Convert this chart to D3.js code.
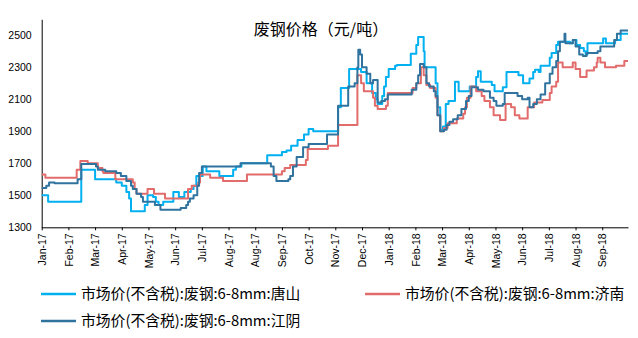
<!DOCTYPE html>
<html><head><meta charset="utf-8">
<script src="https://cdn.jsdelivr.net/npm/d3@7"></script>
<style>body{margin:0;background:#fff}svg{display:block;background:#fff}</style>
</head><body><svg id="c" width="638" height="338"></svg>
<script>
const chartTitle = "废钢价格（元/吨）";
const seriesNames = ["市场价(不含税):废钢:6-8mm:唐山", "市场价(不含税):废钢:6-8mm:济南", "市场价(不含税):废钢:6-8mm:江阴"];
const seriesColors = ["#00B0F0", "#E26B6B", "#31739F"];

const tangshanDates = ["2017-01-10","2017-01-17","2017-02-22","2017-03-09","2017-04-01","2017-04-07","2017-04-12","2017-04-15","2017-04-17","2017-05-02","2017-05-05","2017-05-11","2017-05-14","2017-05-17","2017-05-22","2017-06-02","2017-06-08","2017-06-14","2017-06-21","2017-06-24","2017-06-27","2017-07-04","2017-07-08","2017-07-22","2017-08-06","2017-08-09","2017-08-15","2017-09-12","2017-09-28","2017-10-03","2017-10-08","2017-10-15","2017-10-22","2017-10-27","2017-11-01","2017-11-28","2017-12-01","2017-12-10","2017-12-23","2017-12-29","2018-01-04","2018-01-08","2018-01-10","2018-01-15","2018-01-17","2018-01-19","2018-01-22","2018-01-29","2018-01-31","2018-02-15","2018-02-21","2018-02-23","2018-03-01","2018-03-02","2018-03-14","2018-03-16","2018-03-19","2018-03-22","2018-03-25","2018-03-28","2018-04-04","2018-04-08","2018-04-20","2018-04-27","2018-04-29","2018-05-02","2018-05-14","2018-05-17","2018-05-26","2018-05-30","2018-06-12","2018-06-17","2018-06-24","2018-06-28","2018-06-30","2018-07-04","2018-07-06","2018-07-16","2018-07-18","2018-07-23","2018-07-25","2018-08-07","2018-08-10","2018-08-14","2018-08-18","2018-08-22","2018-08-24","2018-08-26","2018-09-12","2018-09-15","2018-09-25","2018-10-01","2018-10-09"];
const tangshanValues = [1500,1460,1660,1600,1580,1560,1520,1480,1400,1440,1500,1490,1460,1440,1460,1520,1490,1520,1540,1560,1620,1680,1650,1620,1660,1680,1700,1750,1770,1780,1810,1845,1880,1915,1900,2050,2170,2290,2270,2200,2140,2100,2070,2120,2180,2240,2290,2310,2315,2385,2440,2490,2400,2300,2200,2050,1910,1930,2070,2090,2210,2150,2180,2240,2275,2210,2190,2150,2175,2270,2250,2200,2230,2270,2285,2270,2310,2360,2390,2440,2460,2450,2470,2440,2420,2400,2380,2450,2480,2450,2470,2510,2510];

const jinanDates = ["2017-01-10","2017-01-14","2017-02-17","2017-02-21","2017-03-01","2017-03-12","2017-03-17","2017-03-18","2017-03-31","2017-04-19","2017-04-21","2017-04-23","2017-05-05","2017-05-12","2017-05-24","2017-06-18","2017-06-22","2017-06-29","2017-07-01","2017-07-12","2017-07-26","2017-08-21","2017-09-28","2017-10-01","2017-10-07","2017-10-24","2017-10-26","2017-11-17","2017-11-28","2017-12-19","2017-12-23","2017-12-26","2018-01-05","2018-01-07","2018-01-10","2018-01-19","2018-01-21","2018-02-17","2018-02-21","2018-02-26","2018-03-01","2018-03-04","2018-03-08","2018-03-14","2018-03-16","2018-03-19","2018-03-23","2018-03-27","2018-04-06","2018-04-13","2018-04-15","2018-04-17","2018-04-21","2018-04-27","2018-05-03","2018-05-06","2018-05-12","2018-05-16","2018-05-23","2018-05-29","2018-06-04","2018-06-08","2018-06-13","2018-06-22","2018-06-29","2018-07-08","2018-07-16","2018-07-18","2018-07-23","2018-07-25","2018-07-30","2018-08-10","2018-08-13","2018-08-18","2018-08-25","2018-09-02","2018-09-05","2018-09-06","2018-09-09","2018-09-14","2018-09-26","2018-10-05","2018-10-09"];
const jinanValues = [1630,1610,1660,1715,1700,1670,1650,1640,1600,1580,1540,1510,1540,1510,1480,1540,1560,1580,1630,1610,1590,1630,1650,1670,1690,1720,1790,1810,1940,2250,2200,2150,2110,2060,2040,2060,2140,2170,2200,2300,2250,2190,2170,2110,2000,1900,1920,1950,1980,2010,2050,2110,2180,2150,2120,2090,2050,2000,1970,2070,2050,2000,1980,2050,2080,2095,2140,2180,2210,2330,2300,2330,2290,2240,2280,2300,2330,2360,2330,2300,2310,2340,2340];

const jiangyinDates = ["2017-01-10","2017-01-15","2017-01-18","2017-01-24","2017-02-18","2017-02-22","2017-03-10","2017-03-12","2017-03-20","2017-04-01","2017-04-06","2017-04-12","2017-04-17","2017-04-19","2017-04-23","2017-04-28","2017-04-30","2017-05-13","2017-05-19","2017-06-10","2017-06-16","2017-06-18","2017-06-20","2017-06-24","2017-06-28","2017-06-30","2017-07-03","2017-08-14","2017-09-16","2017-09-19","2017-09-22","2017-10-05","2017-10-07","2017-10-10","2017-10-14","2017-10-21","2017-10-27","2017-11-16","2017-11-28","2017-12-09","2017-12-16","2017-12-19","2017-12-20","2017-12-22","2017-12-24","2017-12-29","2018-01-02","2018-01-05","2018-01-10","2018-01-14","2018-01-18","2018-01-21","2018-02-16","2018-02-21","2018-02-23","2018-02-25","2018-03-01","2018-03-04","2018-03-07","2018-03-12","2018-03-14","2018-03-16","2018-03-19","2018-03-23","2018-03-26","2018-03-29","2018-04-02","2018-04-07","2018-04-11","2018-04-16","2018-04-19","2018-04-22","2018-04-29","2018-05-05","2018-05-12","2018-05-16","2018-05-19","2018-05-26","2018-05-28","2018-06-11","2018-06-16","2018-06-22","2018-06-24","2018-06-28","2018-07-02","2018-07-06","2018-07-11","2018-07-16","2018-07-19","2018-07-23","2018-07-25","2018-07-27","2018-08-01","2018-08-02","2018-08-10","2018-08-13","2018-08-17","2018-08-21","2018-08-25","2018-09-06","2018-09-09","2018-09-24","2018-09-27","2018-10-01","2018-10-09"];
const jiangyinValues = [1545,1560,1580,1575,1600,1695,1680,1660,1650,1640,1620,1590,1560,1540,1510,1490,1460,1440,1410,1420,1440,1460,1480,1500,1560,1640,1680,1700,1680,1620,1590,1600,1620,1680,1740,1800,1820,1880,2060,2180,2200,2300,2410,2380,2300,2260,2200,2220,2080,2090,2100,2130,2160,2200,2250,2320,2300,2200,2180,2150,2120,2000,1900,1910,1940,1960,1975,2000,2040,2090,2120,2175,2160,2150,2110,2090,2060,2070,2140,2120,2100,2110,2050,2070,2100,2130,2200,2260,2300,2340,2400,2460,2510,2450,2470,2430,2380,2370,2390,2400,2430,2470,2510,2530,2530];

const xTickDates = ["2017-01-10","2017-02-08","2017-03-09","2017-04-07","2017-05-06","2017-06-04","2017-07-03","2017-08-01","2017-08-30","2017-09-28","2017-10-27","2017-11-25","2017-12-24","2018-01-22","2018-02-20","2018-03-21","2018-04-19","2018-05-18","2018-06-16","2018-07-15","2018-08-13","2018-09-11"];
const xTickLabels = ["Jan-17","Feb-17","Mar-17","Apr-17","May-17","Jun-17","Jul-17","Aug-17","Aug-17","Sep-17","Oct-17","Nov-17","Dec-17","Jan-18","Feb-18","Mar-18","Apr-18","May-18","Jun-18","Jul-18","Aug-18","Sep-18"];
const yTickValues = [1300,1500,1700,1900,2100,2300,2500];
const xDomain = ["2017-01-10","2018-10-09"];
const yDomain = [1300,2600];

const parse = d3.utcParse("%Y-%m-%d");
const svg = d3.select("#c");
const plot = {left: 41.7, right: 628, top: 19.3, bottom: 227.3};
const x = d3.scaleUtc().domain(xDomain.map(parse)).range([plot.left, plot.right]);
const y = d3.scaleLinear().domain(yDomain).range([plot.bottom, plot.top]);

const seriesData = [
  tangshanDates.map((d,i)=>({date:parse(d), value:tangshanValues[i]})),
  jinanDates.map((d,i)=>({date:parse(d), value:jinanValues[i]})),
  jiangyinDates.map((d,i)=>({date:parse(d), value:jiangyinValues[i]}))
];

const axisFont = "'Liberation Sans', Arial, sans-serif";
const cjkFont = "'Noto Sans CJK SC', 'Noto Sans', sans-serif";

// Y axis
const yAxis = svg.append("g").attr("transform", `translate(${plot.left},0)`)
  .call(d3.axisLeft(y).tickValues(yTickValues).tickSize(0).tickPadding(10).tickFormat(d3.format("d")));
yAxis.select(".domain").attr("stroke", "#000").attr("stroke-width", 1);
yAxis.selectAll("text").attr("font-family", axisFont).attr("font-size", "10.5px").attr("fill", "#000");

// X axis
const xAxis = svg.append("g").attr("transform", `translate(0,${plot.bottom})`)
  .call(d3.axisBottom(x).tickValues(xTickDates.map(parse)).tickFormat((d,i)=>xTickLabels[i]).tickSizeInner(3).tickSizeOuter(0));
xAxis.select(".domain").attr("stroke", "#000").attr("stroke-width", 1);
xAxis.selectAll(".tick line").attr("stroke", "#000");
xAxis.selectAll("text")
  .attr("font-family", axisFont).attr("font-size", "10.5px").attr("fill", "#000")
  .attr("transform", "rotate(-90)")
  .attr("text-anchor", "end")
  .attr("x", -6).attr("y", 0).attr("dy", "0.35em");

// Lines
const line = d3.line().curve(d3.curveStepAfter).x(d=>x(d.date)).y(d=>y(d.value));
svg.append("g").selectAll("path").data(seriesData).join("path")
  .attr("d", line)
  .attr("fill", "none")
  .attr("stroke", (d,i)=>seriesColors[i])
  .attr("stroke-width", 2)
  .attr("stroke-linejoin", "round");

// Title
svg.append("text").attr("x", 321).attr("y", 34.5).attr("text-anchor", "middle")
  .attr("font-family", cjkFont).attr("font-size", "16px").attr("fill", "#000")
  .text(chartTitle);

// Legend
const legendPos = [[41, 294], [365, 294], [41, 321]];
const lg = svg.append("g").selectAll("g").data(seriesNames).join("g")
  .attr("transform", (d,i)=>`translate(${legendPos[i][0]},${legendPos[i][1]})`);
lg.append("line").attr("x1", 0).attr("x2", 35).attr("y1", 0).attr("y2", 0)
  .attr("stroke", (d,i)=>seriesColors[i]).attr("stroke-width", 2.5);
lg.append("text").attr("x", 40).attr("y", 0).attr("dy", "0.35em")
  .attr("font-family", cjkFont).attr("font-size", "14.8px").attr("fill", "#000")
  .text(d=>d);
</script>
</body></html>
